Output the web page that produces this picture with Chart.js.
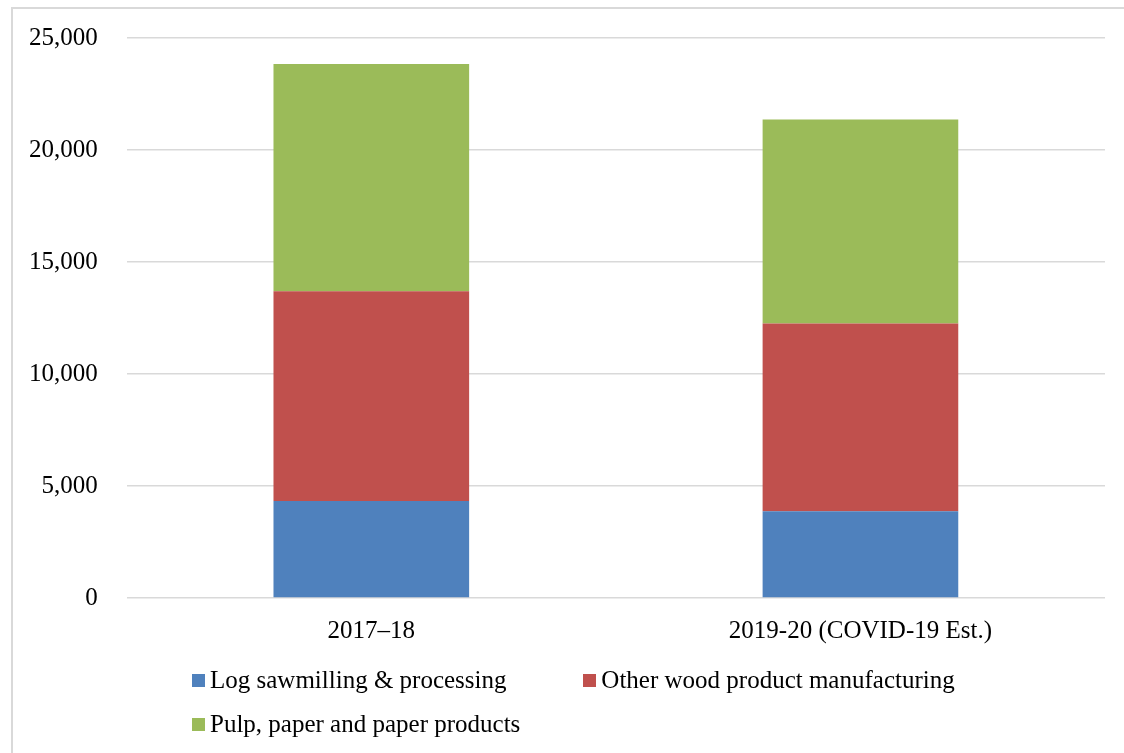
<!DOCTYPE html>
<html>
<head>
<meta charset="utf-8">
<script src="https://cdn.jsdelivr.net/npm/chart.js@4.4.1/dist/chart.umd.min.js"></script>
<style>
  body { margin: 0; background: #fff; width: 1124px; height: 753px; overflow: hidden; position: relative; }
  #frame { position: absolute; left: 11px; top: 7px; width: 1120px; height: 760px; border: 2px solid #d9d9d9; box-sizing: border-box; }
  #chartWood { position: absolute; left: 0; top: -6px; }
  #legend { position: absolute; left: 192px; top: 658px; display: grid; grid-template-columns: auto auto; column-gap: 63px;
            font-family: "Liberation Serif", serif; font-size: 25px; color: #000; }
  #legend .item { display: flex; align-items: center; height: 44px; white-space: nowrap; }
  #legend .swatch { width: 13px; height: 13px; margin-right: 5px; display: inline-block; }
</style>
</head>
<body>
<div id="frame"></div>
<canvas id="chartWood" width="1124" height="666"></canvas>
<div id="legend"></div>
<script>
const xlabels = ['2017\u201318', '2019-20 (COVID-19 Est.)'];
const logSawmilling = [4330, 3870];
const otherWood = [9360, 8380];
const pulpPaper = [10150, 9110];
const yTicks = [0, 5000, 10000, 15000, 20000, 25000];

const fontFamily = '"Liberation Serif", serif';
const textColor = '#000';

// legend drawn as html so the second row lines up under the first, like excel does
const htmlLegend = {
  id: 'htmlLegend',
  afterUpdate(chart) {
    const box = document.getElementById('legend');
    box.innerHTML = '';
    const items = Chart.defaults.plugins.legend.labels.generateLabels(chart);
    items.forEach(item => {
      const el = document.createElement('div');
      el.className = 'item';
      const sw = document.createElement('span');
      sw.className = 'swatch';
      sw.style.background = item.fillStyle;
      const tx = document.createElement('span');
      tx.textContent = item.text;
      el.appendChild(sw);
      el.appendChild(tx);
      box.appendChild(el);
    });
  }
};

const ctx = document.getElementById('chartWood').getContext('2d');

const barPercentage = 0.4;
const categoryPercentage = 1.0;

const myChart = new Chart(ctx, {
  type: 'bar',
  data: {
    labels: xlabels,
    datasets: [
      {
        label: 'Log sawmilling & processing',
        data: logSawmilling,
        backgroundColor: '#4f81bd',
        barPercentage: barPercentage,
        categoryPercentage: categoryPercentage
      },
      {
        label: 'Other wood product manufacturing',
        data: otherWood,
        backgroundColor: '#c0504d',
        barPercentage: barPercentage,
        categoryPercentage: categoryPercentage
      },
      {
        label: 'Pulp, paper and paper products',
        data: pulpPaper,
        backgroundColor: '#9bbb59',
        barPercentage: barPercentage,
        categoryPercentage: categoryPercentage
      }
    ]
  },
  options: {
    responsive: false,
    animation: false,
    layout: {
      padding: { left: 0, right: 19, top: 16, bottom: 4 }
    },
    plugins: {
      legend: { display: false },
      tooltip: { enabled: true }
    },
    scales: {
      x: {
        stacked: true,
        grid: { display: false },
        border: { display: false },
        ticks: {
          color: textColor,
          padding: 10,
          font: { family: fontFamily, size: 25 }
        }
      },
      y: {
        stacked: true,
        min: yTicks[0],
        max: yTicks[yTicks.length - 1],
        afterBuildTicks: axis => { axis.ticks = yTicks.map(v => ({ value: v })); },
        grid: { color: '#d9d9d9', lineWidth: 1.5, drawTicks: false },
        border: { display: false },
        ticks: {
          color: textColor,
          padding: 29,
          font: { family: fontFamily, size: 25 },
          callback: v => v.toLocaleString('en-US')
        }
      }
    }
  },
  plugins: [htmlLegend]
});
</script>
</body>
</html>
